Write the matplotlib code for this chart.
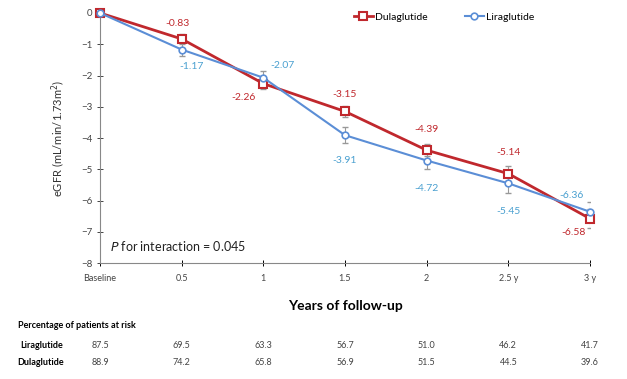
import numpy as np
import matplotlib.pyplot as plt
from matplotlib.transforms import blended_transform_factory

plt.rcParams['font.family'] = ['Lato', 'DejaVu Sans']

# ---------------- Data ----------------
years = [0, 0.5, 1, 1.5, 2, 2.5, 3]
tick_labels = ["Baseline", "0.5", "1", "1.5", "2", "2.5 y", "3 y"]

dula = [0, -0.83, -2.26, -3.15, -4.39, -5.14, -6.58]
lira = [0, -1.17, -2.07, -3.91, -4.72, -5.45, -6.36]
dula_err = [0, 0.15, 0.18, 0.18, 0.2, 0.25, 0.3]
lira_err = [0, 0.2, 0.2, 0.25, 0.27, 0.3, 0.3]

risk_lira = ["87.5", "69.5", "63.3", "56.7", "51.0", "46.2", "41.7"]
risk_dula = ["88.9", "74.2", "65.8", "56.9", "51.5", "44.5", "39.6"]

# label offsets (points) for the value annotations
dula_off = [None, (-3, 11), (-14, -10), (0, 12), (0, 15), (0, 15), (-12, -10)]
lira_off = [None, (7, -12), (14, 9), (0, -18), (0, -20), (0, -20), (-13, 12)]

RED = '#C0282D'
BLUE = '#5B8ED6'
BLUE_TXT = '#4AA0D0'
GREY = '#999999'

fig = plt.figure(figsize=(6.27, 3.79), dpi=100)
ax = fig.add_axes([0.1595, 0.306, 0.7815, 0.6597])

ax.errorbar(years, dula, yerr=dula_err, fmt='none', ecolor=GREY, elinewidth=0.8, capsize=2, zorder=2)
ax.errorbar(years, lira, yerr=lira_err, fmt='none', ecolor=GREY, elinewidth=0.8, capsize=2, zorder=2)

ax.plot(years, dula, color=RED, lw=2.0, marker='s', ms=5.5, mfc='white', mec=RED, mew=1.5,
        label='Dulaglutide', zorder=3, clip_on=False)
ax.plot(years, lira, color=BLUE, lw=1.5, marker='o', ms=4.8, mfc='white', mec=BLUE, mew=1.2,
        label='Liraglutide', zorder=3, clip_on=False)

for x, y, off in zip(years, dula, dula_off):
    if off is None:
        continue
    ax.annotate(f"{y:.2f}", (x, y), xytext=off, textcoords='offset points',
                ha='center', va='center', fontsize=7.5, color=RED)
for x, y, off in zip(years, lira, lira_off):
    if off is None:
        continue
    ax.annotate(f"{y:.2f}", (x, y), xytext=off, textcoords='offset points',
                ha='center', va='center', fontsize=7.5, color=BLUE_TXT)

ax.set_xlim(0, 3)
ax.set_ylim(-8, 0)
ax.set_xticks(years)
ax.set_xticklabels(tick_labels, fontsize=6.5, color='#444444')
ax.set_yticks(range(-8, 1))
ax.tick_params(axis='y', labelsize=7, colors='#444444', direction='inout', length=4, width=0.7)
ax.tick_params(axis='x', direction='inout', length=4, width=0.7, pad=6)
for s in ['top', 'right']:
    ax.spines[s].set_visible(False)
for s in ['left', 'bottom']:
    ax.spines[s].set_color('#888888')
    ax.spines[s].set_linewidth(0.8)

ax.set_ylabel('eGFR (mL/min/1.73m$^2$)', fontsize=8, color='#333333', labelpad=10)
ax.set_xlabel('Years of follow-up', fontsize=10, fontweight='bold', labelpad=12)

ax.text(0.06, -7.6, r'$\it{P}$ for interaction = 0.045', fontsize=9, color='#222222')

ax.legend(loc='upper right', bbox_to_anchor=(0.905, 1.04), ncol=2, frameon=False,
          fontsize=7.5, handlelength=1.8, columnspacing=3.6, handletextpad=0.2)

# ---------------- Patients at risk table ----------------
tr = blended_transform_factory(ax.transData, fig.transFigure)
fig.text(0.028, 0.135, 'Percentage of patients at risk', fontsize=6.5, fontweight='bold')
fig.text(0.032, 0.081, 'Liraglutide', fontsize=6.5, fontweight='bold')
fig.text(0.028, 0.038, 'Dulaglutide', fontsize=6.5, fontweight='bold')
for x, a, b in zip(years, risk_lira, risk_dula):
    ax.text(x, 0.081, a, transform=tr, fontsize=6.5, color='#444444', ha='center', clip_on=False)
    ax.text(x, 0.038, b, transform=tr, fontsize=6.5, color='#444444', ha='center', clip_on=False)

plt.savefig('out.png', dpi=100)
